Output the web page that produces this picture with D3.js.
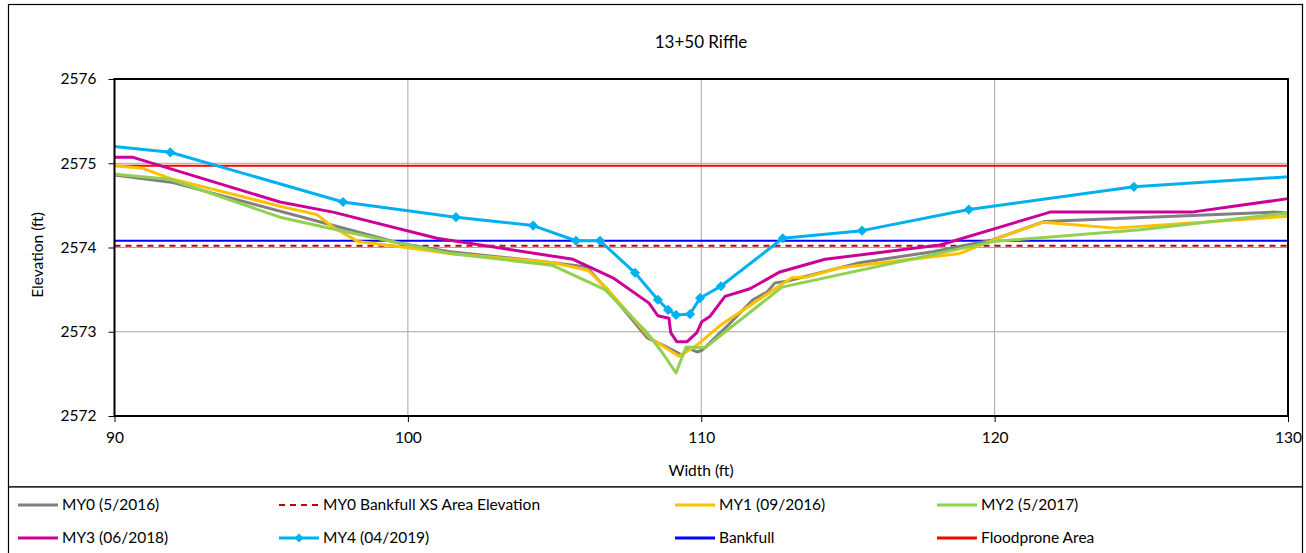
<!DOCTYPE html>
<html><head><meta charset="utf-8">
<script src="https://cdn.jsdelivr.net/npm/d3@7"></script>
<style>
html,body{margin:0;padding:0;background:#fff;}
text{font-family:Lato,"Open Sans",sans-serif;fill:#000;}
</style></head>
<body>
<svg id="chart" width="1306" height="553"></svg>
<script>
// ---------- DATA ----------
const chartTitle = "13+50 Riffle";
const xTicks = [90, 100, 110, 120, 130];
const yTicks = [2572, 2573, 2574, 2575, 2576];

const my0X = [90, 91.99, 97.69, 99.73, 101.43, 104.95, 106.10, 106.79, 108.15, 108.76, 109.04, 109.35, 109.52, 109.86, 110.03, 110.30, 110.98, 111.76, 112.24, 112.51, 112.91, 115.40, 117.89, 119.93, 121.70, 129.48, 130];
const my0Y = [2574.86, 2574.77, 2574.24, 2574.05, 2573.95, 2573.82, 2573.77, 2573.50, 2572.93, 2572.83, 2572.78, 2572.72, 2572.81, 2572.76, 2572.78, 2572.87, 2573.10, 2573.38, 2573.47, 2573.58, 2573.60, 2573.82, 2573.95, 2574.09, 2574.31, 2574.42, 2574.41];

const my1X = [90, 90.97, 91.89, 95.64, 96.90, 97.45, 98.30, 99.73, 101.43, 104.95, 106.14, 106.82, 108.25, 109.24, 109.72, 109.85, 110.63, 112.68, 113.09, 113.60, 114.73, 118.82, 120.18, 121.65, 124.11, 130];
const my1Y = [2574.97, 2574.94, 2574.82, 2574.49, 2574.39, 2574.24, 2574.07, 2574.01, 2573.93, 2573.82, 2573.73, 2573.50, 2572.93, 2572.71, 2572.81, 2572.84, 2573.07, 2573.55, 2573.64, 2573.65, 2573.76, 2573.93, 2574.12, 2574.30, 2574.23, 2574.37];

const my2X = [90, 91.89, 95.64, 97.45, 99.73, 101.43, 104.91, 106.72, 108.15, 108.66, 109.14, 109.48, 110.13, 112.75, 119.95, 124.96, 130];
const my2Y = [2574.87, 2574.81, 2574.36, 2574.22, 2574.05, 2573.93, 2573.79, 2573.50, 2572.99, 2572.76, 2572.51, 2572.82, 2572.81, 2573.53, 2574.07, 2574.21, 2574.41];

const my3X = [90, 90.63, 95.64, 97.45, 100.99, 105.63, 106.99, 108.22, 108.52, 108.90, 108.96, 109.17, 109.51, 109.85, 110.02, 110.29, 110.81, 111.66, 112.68, 114.22, 118.14, 121.89, 126.72, 130];
const my3Y = [2575.07, 2575.07, 2574.54, 2574.42, 2574.11, 2573.86, 2573.64, 2573.34, 2573.19, 2573.16, 2572.99, 2572.88, 2572.88, 2572.99, 2573.12, 2573.18, 2573.42, 2573.51, 2573.71, 2573.86, 2574.03, 2574.42, 2574.42, 2574.58];

const my4X = [90, 91.9, 97.79, 101.64, 104.27, 105.73, 106.55, 107.74, 108.52, 108.87, 109.14, 109.62, 109.96, 110.67, 112.78, 115.48, 119.12, 124.75, 130];
const my4Y = [2575.20, 2575.13, 2574.54, 2574.36, 2574.26, 2574.08, 2574.08, 2573.70, 2573.38, 2573.26, 2573.20, 2573.21, 2573.40, 2573.54, 2574.11, 2574.20, 2574.45, 2574.72, 2574.84];
const my4Markers = [false, true, true, true, true, true, true, true, true, true, true, true, true, true, true, true, true, true, false];

const bankfullXSElev = 2574.02;
const bankfullElev = 2574.08;
const floodproneElev = 2574.97;

const seriesNames = ["MY0 (5/2016)", "MY0 Bankfull XS Area Elevation", "MY1 (09/2016)", "MY2 (5/2017)", "MY3 (06/2018)", "MY4 (04/2019)", "Bankfull", "Floodprone Area"];

// ---------- LAYOUT ----------
const svg = d3.select("#chart");
const M = {left: 114.5, right: 1288, top: 79, bottom: 416};
const x = d3.scaleLinear().domain([90, 130]).range([M.left, M.right]);
const y = d3.scaleLinear().domain([2572, 2576]).range([M.bottom, M.top]);

// outer frame
svg.append("rect").attr("x", 8.5).attr("y", 4.5).attr("width", 1294).attr("height", 482.5)
  .attr("fill", "#fff").attr("stroke", "#000").attr("stroke-width", 1.2);
svg.append("rect").attr("x", 8.5).attr("y", 487).attr("width", 1294).attr("height", 70)
  .attr("fill", "#fff").attr("stroke", "#000").attr("stroke-width", 1.2);

// gridlines
const g = svg.append("g");
g.selectAll("line.vg").data(xTicks.slice(1, -1)).join("line")
  .attr("x1", d => x(d)).attr("x2", d => x(d)).attr("y1", M.top).attr("y2", M.bottom)
  .attr("stroke", "#a6a6a6").attr("stroke-width", 1);
g.selectAll("line.hg").data(yTicks.slice(1, -1)).join("line")
  .attr("x1", M.left).attr("x2", M.right).attr("y1", d => y(d)).attr("y2", d => y(d))
  .attr("stroke", "#a6a6a6").attr("stroke-width", 1);

// axes
const yAxis = d3.axisLeft(y).tickValues(yTicks).tickSize(6).tickPadding(12).tickFormat(d3.format("d"));
const xAxis = d3.axisBottom(x).tickValues(xTicks).tickSize(6).tickPadding(10).tickFormat(d3.format("d"));
const ya = svg.append("g").attr("transform", `translate(${M.left},0)`).call(yAxis);
const xa = svg.append("g").attr("transform", `translate(0,${M.bottom})`).call(xAxis);
[ya, xa].forEach(a => {
  a.select(".domain").remove();
  a.selectAll(".tick line").attr("stroke", "#000").attr("stroke-width", 1);
  a.selectAll(".tick text").attr("font-size", 15.5).attr("font-family", "Lato, sans-serif").attr("fill", "#000");
});

// horizontal reference lines
const hl = (val, color, dash, w) => svg.append("line")
  .attr("x1", M.left).attr("x2", M.right).attr("y1", y(val)).attr("y2", y(val))
  .attr("stroke", color).attr("stroke-width", w).attr("stroke-dasharray", dash);
hl(bankfullXSElev, "#C00000", "6,5", 2);
hl(bankfullElev, "#0000FF", null, 2);
hl(floodproneElev, "#FF0000", null, 2);

// series lines
const line = d3.line().x(d => x(d[0])).y(d => y(d[1]));
const zipXY = (xs, ys) => xs.map((v, i) => [v, ys[i]]);
const drawSeries = (xs, ys, color) => svg.append("path").datum(zipXY(xs, ys))
  .attr("d", line).attr("fill", "none").attr("stroke", color).attr("stroke-width", 3)
  .attr("stroke-linejoin", "round");
drawSeries(my0X, my0Y, "#808080");
drawSeries(my1X, my1Y, "#FFC000");
drawSeries(my2X, my2Y, "#92D050");
drawSeries(my3X, my3Y, "#CC0099");
drawSeries(my4X, my4Y, "#00B0F0");
const diamond = d3.symbol(d3.symbolSquare, 52);
svg.append("g").selectAll("path").data(zipXY(my4X, my4Y).filter((d, i) => my4Markers[i])).join("path")
  .attr("d", diamond).attr("fill", "#00B0F0")
  .attr("transform", d => `translate(${x(d[0])},${y(d[1])}) rotate(45)`);

// plot border
svg.append("rect").attr("x", M.left).attr("y", M.top).attr("width", M.right - M.left).attr("height", M.bottom - M.top)
  .attr("fill", "none").attr("stroke", "#000").attr("stroke-width", 2);

// titles
svg.append("text").attr("x", 701).attr("y", 48).attr("text-anchor", "middle").attr("font-size", 17).text(chartTitle);
svg.append("text").attr("x", 701).attr("y", 476).attr("text-anchor", "middle").attr("font-size", 15.5).text("Width (ft)");
svg.append("text").attr("transform", "translate(43,255) rotate(-90)").attr("text-anchor", "middle").attr("font-size", 15.5).text("Elevation (ft)");

// legend
const legendItems = [
  {name: seriesNames[0], color: "#808080", col: 0, row: 0},
  {name: seriesNames[1], color: "#C00000", col: 1, row: 0, dash: "6,5"},
  {name: seriesNames[2], color: "#FFC000", col: 2, row: 0},
  {name: seriesNames[3], color: "#92D050", col: 3, row: 0},
  {name: seriesNames[4], color: "#CC0099", col: 0, row: 1},
  {name: seriesNames[5], color: "#00B0F0", col: 1, row: 1, marker: true},
  {name: seriesNames[6], color: "#0000FF", col: 2, row: 1},
  {name: seriesNames[7], color: "#FF0000", col: 3, row: 1}
];
const colX = [18, 279, 675, 937];
const rowY = [505, 538];
const lg = svg.append("g").selectAll("g").data(legendItems).join("g")
  .attr("transform", d => `translate(${colX[d.col]},${rowY[d.row]})`);
lg.append("line").attr("x1", 0).attr("x2", 40).attr("y1", 0).attr("y2", 0)
  .attr("stroke", d => d.color).attr("stroke-width", d => (d.col === 1 && d.row === 0) ? 2 : 3)
  .attr("stroke-dasharray", d => d.dash || null);
lg.filter(d => d.marker).append("path").attr("d", d3.symbol(d3.symbolSquare, 40))
  .attr("fill", d => d.color).attr("transform", "translate(20,0) rotate(45)");
lg.append("text").attr("x", 44).attr("y", 0).attr("dy", "0.35em").attr("font-size", 15.5).text(d => d.name);
</script>
</body></html>
